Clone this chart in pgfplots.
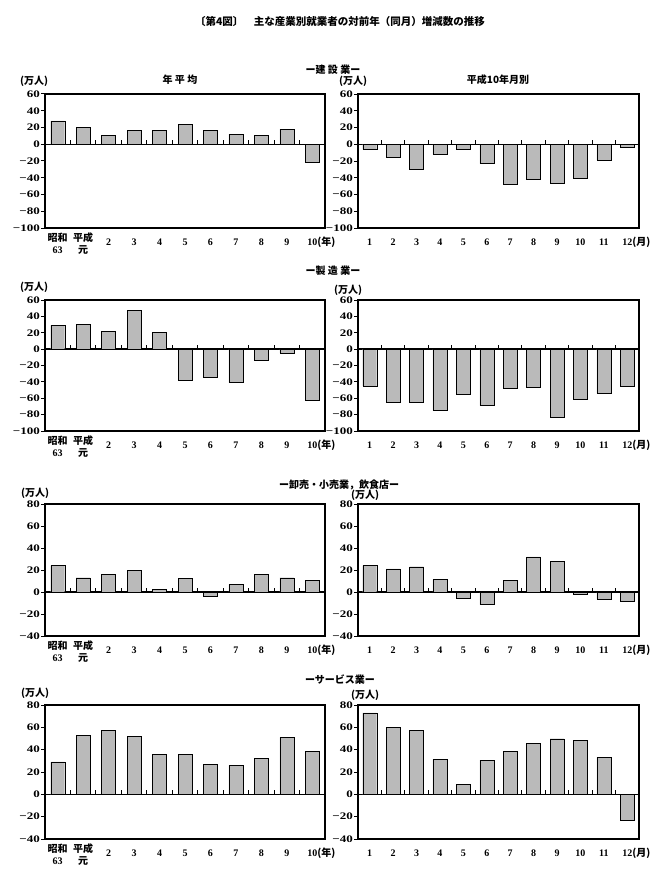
\documentclass[border=0pt]{standalone}
\usepackage{fontspec}
\setmainfont{Liberation Serif}
\newfontfamily\cjk{Noto Sans CJK JP}
\newfontfamily\wide{Liberation Serif}[FakeStretch=1.3]
\usepackage{pgfplots}
\pgfplotsset{compat=1.18}

\pgfplotsset{
  panel/.style={
    scale only axis, anchor=north west, height=134pt,
    ybar, bar width=14pt,
    axis line style={line width=1.4pt},
    tick align=outside, ytick pos=left, xtick pos=bottom,
    major tick length=4pt,
    tick style={black, line width=1pt},
    x tick style={draw=none},
    tick label style={font=\bfseries\fontsize{10}{12}\selectfont},
    yticklabel style={font=\wide\bfseries\fontsize{10}{12}\selectfont, inner sep=1pt},
    xticklabel style={align=center, inner sep=1pt},
    cycle list={{fill=black!27, draw=black, line width=1.4pt}},
  },
  yearpanel/.style={panel, width=280pt, xmin=-0.5, xmax=10.5, xtick={0,...,10},
    xticklabels={{\cjk 昭和}\\63,{\cjk 平成}\\{\cjk 元},{}\\2,{}\\3,{}\\4,{}\\5,{}\\6,{}\\7,{}\\8,{}\\9,{}\\10\rlap{\cjk (年)}}},
  monthpanel/.style={panel, width=281pt, xmin=0.5, xmax=12.5, xtick={1,...,12},
    xticklabels={{}\\1,{}\\2,{}\\3,{}\\4,{}\\5,{}\\6,{}\\7,{}\\8,{}\\9,{}\\10,{}\\11,{}\\12\rlap{\cjk (月)}}},
  rangeA/.style={ymin=-100, ymax=60, ytick={-100,-80,...,60},
    yticklabels={−100,−80,−60,−40,−20,0,20,40,60}},
  rangeB/.style={ymin=-40, ymax=80, ytick={-40,-20,...,80},
    yticklabels={−40,−20,0,20,40,60,80}},
}
\newcommand{\zeroline}[2]{%
  \draw[line width=1.4pt] (axis cs:#1,0) -- (axis cs:#2,0);}
\newcommand{\yearmarks}{%
  \pgfplotsinvokeforeach{0.5,1.5,...,9.5}{\draw[line width=1pt] (axis cs:##1,0) -- ([yshift=4pt]axis cs:##1,0);}}
\newcommand{\monthmarks}{%
  \pgfplotsinvokeforeach{1.5,2.5,...,11.5}{\draw[line width=1pt] (axis cs:##1,0) -- ([yshift=4pt]axis cs:##1,0);}}

\begin{document}
\begin{tikzpicture}[x=1pt,y=1pt]
\useasboundingbox (0,0) rectangle (667,-880);
\tikzset{jp/.style={font=\cjk\bfseries\fontsize{10}{12}\selectfont, inner sep=0pt}}

\node[jp, font=\cjk\bfseries\fontsize{10.5}{12}\selectfont] at (340,-22) {〔第4図〕\quad 主な産業別就業者の対前年（同月）増減数の推移};

% ---- 建設業 ----
\node[jp] at (333,-70) {ー建 設 業ー};
\node[jp] at (180,-80) {年\ 平\ 均};
\node[jp] at (498,-80) {平成10年月別};
\node[jp] at (34,-81) {(万人)};
\node[jp] at (353,-81) {(万人)};

\begin{axis}[yearpanel, rangeA, at={(45pt,-94pt)}]
\zeroline{-0.5}{10.5}\yearmarks
\addplot coordinates {(0,28) (1,20) (2,11) (3,17) (4,16.5) (5,23.5) (6,17) (7,12) (8,10.5) (9,18) (10,-22)};
\end{axis}
\begin{axis}[monthpanel, rangeA, at={(358pt,-94pt)}]
\zeroline{0.5}{12.5}\monthmarks
\addplot coordinates {(1,-6) (2,-16) (3,-30) (4,-12) (5,-6) (6,-23) (7,-48) (8,-42) (9,-47) (10,-40) (11,-19) (12,-3)};
\end{axis}

% ---- 製造業 ----
\node[jp] at (333,-271) {ー製 造 業ー};
\node[jp] at (34,-287) {(万人)};
\node[jp] at (348,-290) {(万人)};

\begin{axis}[yearpanel, rangeA, height=131pt, at={(45pt,-300pt)}]
\zeroline{-0.5}{10.5}\yearmarks
\addplot coordinates {(0,29) (1,30) (2,22) (3,47) (4,20.5) (5,-38) (6,-34.5) (7,-41) (8,-13) (9,-4.5) (10,-62)};
\end{axis}
\begin{axis}[monthpanel, rangeA, height=131pt, at={(358pt,-300pt)}]
\zeroline{0.5}{12.5}\monthmarks
\addplot coordinates {(1,-45) (2,-65) (3,-65) (4,-75) (5,-55) (6,-69) (7,-48) (8,-47) (9,-83) (10,-61) (11,-54) (12,-45)};
\end{axis}

% ---- 卸売・小売業，飲食店 ----
\node[jp] at (339,-485) {ー卸売・小売業，飲食店ー};
\node[jp] at (35,-493) {(万人)};
\node[jp] at (365,-495) {(万人)};

\begin{axis}[yearpanel, rangeB, height=132pt, at={(45pt,-504pt)}]
\zeroline{-0.5}{10.5}\yearmarks
\addplot coordinates {(0,24) (1,13) (2,16) (3,20) (4,2.4) (5,12.7) (6,-4) (7,7) (8,16) (9,13) (10,10.6)};
\end{axis}
\begin{axis}[monthpanel, rangeB, height=132pt, at={(358pt,-504pt)}]
\zeroline{0.5}{12.5}\monthmarks
\addplot coordinates {(1,24) (2,21) (3,23) (4,11.5) (5,-6) (6,-11.5) (7,10.3) (8,32) (9,28) (10,-2) (11,-6.7) (12,-8)};
\end{axis}

% ---- サービス業 ----
\node[jp] at (340,-680) {ーサービス業ー};
\node[jp] at (35,-693) {(万人)};
\node[jp] at (365,-695) {(万人)};

\begin{axis}[yearpanel, rangeB, height=134pt, at={(45pt,-705pt)}]
\zeroline{-0.5}{10.5}\yearmarks
\addplot coordinates {(0,29) (1,53) (2,57.6) (3,52) (4,36) (5,36) (6,27) (7,26) (8,32.5) (9,51) (10,38.8)};
\end{axis}
\begin{axis}[monthpanel, rangeB, height=134pt, at={(358pt,-705pt)}]
\zeroline{0.5}{12.5}\monthmarks
\addplot coordinates {(1,73) (2,60) (3,57) (4,31.5) (5,8.7) (6,30.6) (7,38.4) (8,45.6) (9,49.8) (10,48.6) (11,33) (12,-23)};
\end{axis}
\end{tikzpicture}
\end{document}
